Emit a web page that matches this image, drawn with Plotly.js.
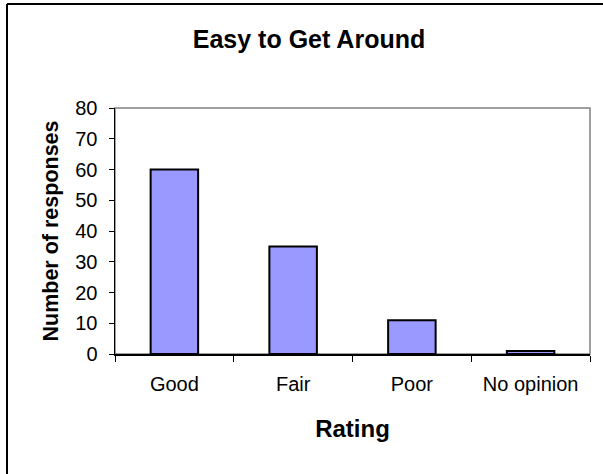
<!DOCTYPE html>
<html>
<head>
<meta charset="utf-8">
<script src="https://cdn.plot.ly/plotly-3.0.1.min.js"></script>
<style>
  html, body { margin: 0; padding: 0; background: #fff; }
  #chart { width: 603px; height: 474px; }
</style>
</head>
<body>
<div id="chart"></div>
<script>
const categories = ["Good", "Fair", "Poor", "No opinion"];
const responses = [60, 35, 11, 1];
const yTickValues = [0, 10, 20, 30, 40, 50, 60, 70, 80];

const W = 603, H = 474;
const L = 115, R = 13, T = 108, B = 120;
const pw = W - L - R, ph = H - T - B;
const fontFam = "Liberation Sans, Arial, sans-serif";

const trace = {
  type: "bar",
  x: categories,
  y: responses,
  marker: { color: "#9999FF", line: { color: "#000000", width: 2 } },
  hoverinfo: "x+y"
};

const layout = {
  width: W, height: H,
  margin: { l: L, r: R, t: T, b: B, pad: 0 },
  paper_bgcolor: "#ffffff",
  plot_bgcolor: "#ffffff",
  showlegend: false,
  bargap: 0.6,
  font: { family: fontFam, color: "#000000" },
  title: {
    text: "<b>Easy to Get Around</b>",
    font: { family: fontFam, size: 25, color: "#000000" },
    xref: "container", yref: "container",
    x: 309 / W, y: 1 - 39 / H,
    xanchor: "center", yanchor: "middle"
  },
  xaxis: {
    type: "category",
    showgrid: false,
    zeroline: false,
    showline: true, linecolor: "#000000", linewidth: 1.5,
    ticks: "outside", ticklen: 6, tickcolor: "#000000", tickwidth: 1,
    tickson: "boundaries",
    tickfont: { family: fontFam, size: 20, color: "#000000" },
    ticklabelstandoff: 11,
    title: {
      text: "<b>Rating</b>",
      font: { family: fontFam, size: 24, color: "#000000" },
      standoff: 26
    },
    fixedrange: true
  },
  yaxis: {
    range: [0, 80],
    tickvals: yTickValues,
    showgrid: false,
    zeroline: false,
    showline: true, linecolor: "#000000", linewidth: 1.5,
    ticks: "outside", ticklen: 5, tickcolor: "#000000", tickwidth: 1,
    tickfont: { family: fontFam, size: 20, color: "#000000" },
    ticklabelstandoff: 7,
    title: {
      text: "<b>Number of responses</b>",
      font: { family: fontFam, size: 21.5, color: "#000000" },
      standoff: 10
    },
    fixedrange: true
  },
  shapes: [
    { type: "rect", xref: "paper", yref: "paper", x0: 0, x1: 1, y0: 0, y1: 1,
      line: { color: "#808080", width: 1.5 }, fillcolor: "rgba(0,0,0,0)", layer: "below" },
    { type: "line", xref: "paper", yref: "paper",
      x0: (7 - L) / pw, x1: (7 - L) / pw, y0: (T + ph - (H + 10)) / ph, y1: (T + ph - 4) / ph,
      line: { color: "#000000", width: 2 } },
    { type: "line", xref: "paper", yref: "paper",
      x0: (7 - L) / pw, x1: (W + 10 - L) / pw, y0: (T + ph - 4) / ph, y1: (T + ph - 4) / ph,
      line: { color: "#000000", width: 2 } }
  ]
};

Plotly.newPlot("chart", [trace], layout, { displayModeBar: false, staticPlot: true });
</script>
</body>
</html>
